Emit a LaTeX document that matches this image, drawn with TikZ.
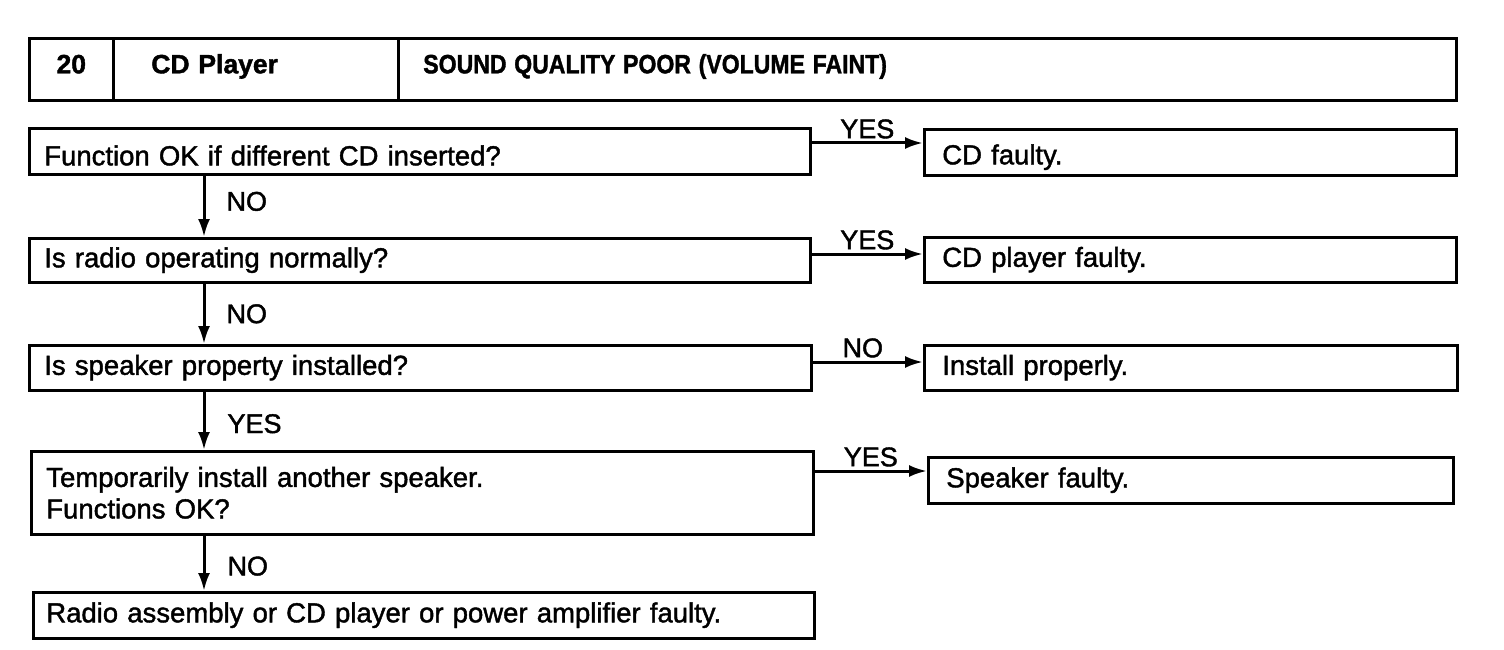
\documentclass[tikz,border=0pt]{standalone}
\usepackage{fontspec}
\usepackage{graphicx}
\setmainfont{Liberation Sans}[RawFeature={embolden=1.5}]
\usetikzlibrary{arrows.meta}
\begin{document}
\begin{tikzpicture}[x=1pt,y=-1pt,
  box/.style={draw, line width=2.6pt, rectangle, inner xsep=15pt, inner ysep=0pt,
    align=left, anchor=north west, font=\fontsize{27.5}{31.5}\selectfont},
  one/.style={text height=20pt, text depth=6pt},
  rbox/.style={box, one, inner xsep=18pt},
  hbox/.style={draw, line width=2.6pt, rectangle, inner ysep=0pt, anchor=north west,
    minimum height=62pt, font=\fontsize{26.5}{30}\selectfont\bfseries, align=left,
    text height=18pt, text depth=10pt},
  arr/.style={line width=3pt, -{Latex[length=18pt,width=12pt]}},
  lbl/.style={inner sep=0pt, font=\fontsize{27}{30}\selectfont}
]
\useasboundingbox (0,0) rectangle (1504,650);
% header
\node[hbox, minimum width=84pt, align=center] (h1) at (28,37) {20};
\node[hbox, minimum width=285pt, inner xsep=38pt, text width=209pt] (h2) at (112,37) {CD Player};
\node[hbox, minimum width=1058pt, inner xsep=25pt, text width=1008pt] (h3) at (397,37)
  {\scalebox{0.87}[1]{SOUND QUALITY POOR (VOLUME FAINT)}};
% questions
\node[box, minimum width=781pt, minimum height=46pt, text width=751pt, text height=28pt, text depth=0pt] (b1) at (28,127)
  {Function OK if different CD inserted?};
\node[box, one, minimum width=781pt, minimum height=44pt, text width=751pt] (b2) at (28,237)
  {Is radio operating normally?};
\node[box, one, minimum width=782pt, minimum height=45pt, text width=752pt] (b3) at (28,344)
  {Is speaker property installed?};
\node[box, minimum width=782pt, minimum height=83pt, text width=752pt] (b4) at (30,450)
  {Temporarily install another speaker.\\Functions OK?};
\node[box, one, minimum width=781pt, minimum height=46pt, inner xsep=13pt, text width=755pt] (b5) at (32,591)
  {Radio assembly or CD player or power amplifier faulty.};
% results
\node[rbox, minimum width=532pt, minimum height=46pt, text width=496pt, text height=26pt, text depth=2pt] (r1) at (923,128) {CD faulty.};
\node[rbox, minimum width=532pt, minimum height=45pt, text width=496pt] (r2) at (923,236) {CD player faulty.};
\node[rbox, minimum width=533pt, minimum height=45pt, text width=497pt] (r3) at (923,344) {Install properly.};
\node[rbox, minimum width=525pt, minimum height=46pt, text width=489pt] (r4) at (927,456) {Speaker faulty.};
% vertical arrows
\draw[arr] ([xshift=176pt]b1.south west) -- ([xshift=176pt]b1.south west |- b2.north)
  node[lbl, anchor=west, pos=0.42, xshift=21pt] {NO};
\draw[arr] ([xshift=176pt]b2.south west) -- ([xshift=176pt]b2.south west |- b3.north)
  node[lbl, anchor=west, pos=0.5, xshift=21pt] {NO};
\draw[arr] ([xshift=176pt]b3.south west) -- ([xshift=176pt]b3.south west |- b4.north)
  node[lbl, anchor=west, pos=0.55, xshift=22pt] {YES};
\draw[arr] ([xshift=174pt]b4.south west) -- ([xshift=174pt]b4.south west |- b5.north)
  node[lbl, anchor=west, pos=0.55, xshift=22pt] {NO};
% horizontal arrows
\draw[arr] ([yshift=-16pt]b1.north east) -- ([yshift=-16pt]b1.north east -| r1.west)
  node[lbl, anchor=south, midway, yshift=3pt] {YES};
\draw[arr] ([yshift=-17pt]b2.north east) -- ([yshift=-17pt]b2.north east -| r2.west)
  node[lbl, anchor=south, midway, yshift=3pt] {YES};
\draw[arr] ([yshift=-18pt]b3.north east) -- ([yshift=-18pt]b3.north east -| r3.west)
  node[lbl, anchor=south, midway, yshift=3pt, xshift=-5pt] {NO};
\draw[arr] ([yshift=-21pt]b4.north east) -- ([yshift=-21pt]b4.north east -| r4.west)
  node[lbl, anchor=south, midway, yshift=3pt] {YES};
\end{tikzpicture}
\end{document}
